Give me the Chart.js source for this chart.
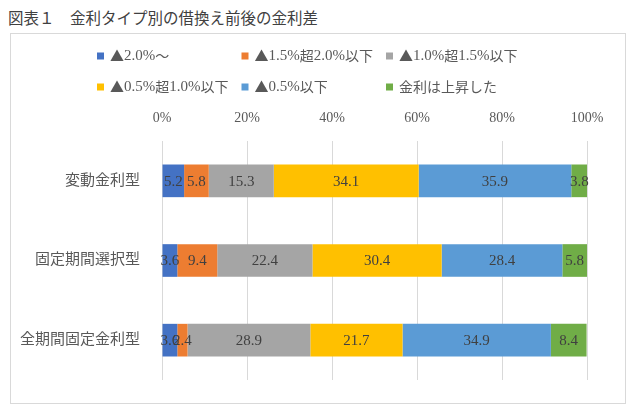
<!DOCTYPE html>
<html>
<head>
<meta charset="utf-8">
<script src="https://cdn.jsdelivr.net/npm/chart.js@4"></script>
<style>
  body { margin: 0; background: #fff; }
  #title { position: absolute; left: 8px; top: 6px; font: 15.5px 'Liberation Serif', 'Noto Sans CJK JP'; color: #404040; white-space: nowrap; }
  #frame { position: absolute; left: 10px; top: 33px; width: 614px; height: 369px; border: 1px solid #d9d9d9; }
  #myChart { display: block; }
</style>
</head>
<body>
<div id="title">図表１　金利タイプ別の借換え前後の金利差</div>
<div id="frame"><canvas id="myChart" width="614" height="369"></canvas></div>
<script>
// rows, top to bottom
var categories = ['変動金利型', '固定期間選択型', '全期間固定金利型'];
var seriesNames = ['▲2.0%～', '▲1.5%超2.0%以下', '▲1.0%超1.5%以下', '▲0.5%超1.0%以下', '▲0.5%以下', '金利は上昇した'];
// share of borrowers in each band (%), one array per series
var over20 = [5.2, 3.6, 3.6];
var from15to20 = [5.8, 9.4, 2.4];
var from10to15 = [15.3, 22.4, 28.9];
var from05to10 = [34.1, 30.4, 21.7];
var upTo05 = [35.9, 28.4, 34.9];
var rose = [3.8, 5.8, 8.4];
var tickValues = [0, 20, 40, 60, 80, 100];

var colors = ['#4472C4', '#ED7D31', '#A5A5A5', '#FFC000', '#5B9BD5', '#70AD47'];
var allValues = [over20, from15to20, from10to15, from05to10, upTo05, rose];

var fontFamily = "'Liberation Serif', 'Noto Sans CJK JP'";
var textColor = '#595959';

// legend in a 3 column grid like the Excel original
// wide chars (▲, kanji, ～) are drawn with the CJK font so the triangle keeps its size
var gridLegend = {
  id: 'gridLegend',
  afterDraw: function(chart) {
    var c = chart.ctx;
    c.save();
    c.textBaseline = 'middle';
    chart.data.datasets.forEach(function(ds, i) {
      var x = 86 + (i % 3) * 144.5;
      var y = 22 + Math.floor(i / 3) * 31;
      c.fillStyle = ds.backgroundColor;
      c.fillRect(x, y - 3.5, 7, 7);
      c.fillStyle = textColor;
      var tx = x + 13;
      Array.from(ds.label).forEach(function(ch) {
        c.font = ch.charCodeAt(0) > 0x2000 ? "14px 'Noto Sans CJK JP'" : "15px 'Liberation Serif'";
        c.fillText(ch, tx, y);
        tx += c.measureText(ch).width;
      });
    });
    c.restore();
  }
};

// value labels in the middle of each segment
var segmentLabels = {
  id: 'segmentLabels',
  afterDatasetsDraw: function(chart) {
    var c = chart.ctx;
    c.save();
    c.font = '15px ' + fontFamily;
    c.fillStyle = '#404040';
    c.textAlign = 'center';
    c.textBaseline = 'middle';
    chart.data.datasets.forEach(function(ds, i) {
      chart.getDatasetMeta(i).data.forEach(function(bar, j) {
        var p = bar.getCenterPoint();
        c.fillText(ds.data[j].toFixed(1), p.x, p.y + 1);
      });
    });
    c.restore();
  }
};

var ctx = document.getElementById('myChart');
var myChart = new Chart(ctx, {
  type: 'bar',
  data: {
    labels: categories,
    datasets: seriesNames.map(function(name, i) {
      return {
        label: name,
        data: allValues[i],
        backgroundColor: colors[i],
        barPercentage: 0.41,
        categoryPercentage: 1
      };
    })
  },
  options: {
    indexAxis: 'y',
    responsive: false,
    animation: false,
    layout: { padding: { top: 0, right: 38, bottom: 19, left: 0 } },
    plugins: {
      legend: { display: false },
      tooltip: { enabled: false }
    },
    scales: {
      x: {
        position: 'top',
        stacked: true,
        min: 0,
        max: 100,
        afterBuildTicks: function(axis) {
          axis.ticks = tickValues.map(function(v) { return { value: v }; });
        },
        afterFit: function(axis) { axis.height = 107; },
        grid: { color: '#d9d9d9', drawTicks: false },
        border: { display: false },
        ticks: {
          padding: 14,
          color: textColor,
          font: { family: fontFamily, size: 14 },
          callback: function(v) { return v + '%'; }
        }
      },
      y: {
        stacked: true,
        afterFit: function(axis) { axis.width = 151; },
        grid: { display: false },
        border: { display: false },
        ticks: {
          padding: 14,
          color: textColor,
          font: { family: fontFamily, size: 15 }
        }
      }
    }
  },
  plugins: [gridLegend, segmentLabels]
});
</script>
</body>
</html>
